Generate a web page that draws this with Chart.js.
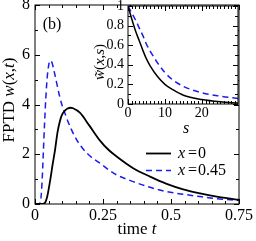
<!DOCTYPE html>
<html>
<head>
<meta charset="utf-8">
<script src="https://cdn.jsdelivr.net/npm/chart.js@4.4.1/dist/chart.umd.min.js"></script>
<style>
  html, body { margin: 0; padding: 0; background: #fff; }
  #wrap { position: relative; width: 256px; height: 241px; overflow: hidden; }
  canvas { position: absolute; }
  #main { left: 0; top: 0; }
  #inset { left: 90px; top: 0; }
</style>
</head>
<body>
<div id="wrap">
  <canvas id="main" width="256" height="241"></canvas>
  <canvas id="inset" width="166" height="140"></canvas>
</div>
<script>
// main panel: FPTD w(x,t)
const timeX0 = [0, 0.02, 0.03, 0.037, 0.045, 0.055, 0.065, 0.074, 0.083, 0.092, 0.1, 0.11, 0.12, 0.13, 0.14, 0.165, 0.2, 0.239, 0.27, 0.3, 0.361, 0.423, 0.484, 0.545, 0.607, 0.668, 0.729, 0.75];
const fptdX0 = [0, 0, 0.01, 0.05, 0.3, 0.9, 1.6, 2.2, 2.9, 3.35, 3.6, 3.75, 3.84, 3.87, 3.85, 3.67, 3.15, 2.55, 2.18, 1.91, 1.44, 1.1, 0.81, 0.59, 0.43, 0.3, 0.2, 0.17];
const timeX45 = [0, 0.012, 0.018, 0.022, 0.026, 0.03, 0.035, 0.04, 0.045, 0.05, 0.055, 0.06, 0.07, 0.08, 0.09, 0.1, 0.11, 0.12, 0.14, 0.165, 0.2, 0.239, 0.27, 0.3, 0.361, 0.423, 0.484, 0.545, 0.607, 0.668, 0.729, 0.75];
const fptdX45 = [0, 0, 0.03, 0.25, 0.9, 1.9, 3.2, 4.3, 5.1, 5.55, 5.76, 5.74, 5.35, 4.85, 4.35, 3.95, 3.65, 3.35, 2.85, 2.38, 1.95, 1.64, 1.38, 1.17, 0.9, 0.67, 0.5, 0.39, 0.3, 0.21, 0.16, 0.14];

// inset: Laplace transform w~(x,s)
const sVals = [0, 1, 2, 3, 4, 5, 6, 8, 10, 12, 15, 20, 25, 30];
const lapX0 = [1, 0.87, 0.75, 0.65, 0.55, 0.46, 0.39, 0.28, 0.2, 0.15, 0.09, 0.045, 0.022, 0.01];
const lapX45 = [1, 0.93, 0.86, 0.78, 0.7, 0.61, 0.54, 0.42, 0.32, 0.25, 0.18, 0.115, 0.08, 0.055];

const seriesLabels = ["x = 0", "x = 0.45"];

// tick marks and labels
const mainXMajor = [0, 0.25, 0.5, 0.75];
const mainXLabels = ["0", "0.25", "0.5", "0.75"];
const mainXMinor = [0.05, 0.1, 0.15, 0.2, 0.3, 0.35, 0.4, 0.45, 0.55, 0.6, 0.65, 0.7];
const mainYMajor = [0, 2, 4, 6, 8];
const mainYMinor = [1, 3, 5, 7];
const insetXMajor = [0, 10, 20];
const insetXMinor = [1, 2, 3, 4, 5, 6, 7, 8, 9, 11, 12, 13, 14, 15, 16, 17, 18, 19, 21, 22, 23, 24, 25, 26, 27, 28, 29];
const insetYMajor = [0, 0.2, 0.4, 0.6, 0.8, 1];
const insetYLabels = ["0", "0.2", "0.4", "0.6", "0.8", "1"];
const insetYMinor = [0.1, 0.3, 0.5, 0.7, 0.9];

const SERIF = "'Liberation Serif', 'DejaVu Serif', serif";
const BLUE = "#1c1cf0";

const pts = (xs, ys) => xs.map((v, i) => ({ x: v, y: ys[i] }));

function richText(ctx, parts, x, y, size) {
  let w = 0;
  parts.forEach(p => {
    ctx.font = (p[1] ? "italic " : "") + size + "px " + SERIF;
    w += ctx.measureText(p[0]).width;
  });
  let cx = x - w / 2;
  parts.forEach(p => {
    ctx.font = (p[1] ? "italic " : "") + size + "px " + SERIF;
    ctx.textAlign = "left";
    ctx.fillText(p[0], cx, y);
    cx += ctx.measureText(p[0]).width;
  });
}

const frame = {
  id: "frame",
  beforeDraw(chart, args, o) {
    if (!o.fill) return;
    const { ctx, chartArea: a } = chart;
    ctx.save();
    ctx.fillStyle = "#fff";
    ctx.fillRect(a.left, a.top, a.right - a.left, a.bottom - a.top);
    ctx.restore();
  },
  afterDraw(chart, args, o) {
    const { ctx, chartArea: a, scales: { x, y } } = chart;
    ctx.save();
    ctx.strokeStyle = "#000";
    ctx.lineWidth = 1;
    ctx.strokeRect(a.left, a.top, a.right - a.left, a.bottom - a.top);
    ctx.beginPath();
    const xt = (vals, len) => vals.forEach(v => {
      const p = Math.round(x.getPixelForValue(v)) + 0.5;
      ctx.moveTo(p, a.bottom); ctx.lineTo(p, a.bottom - len);
      ctx.moveTo(p, a.top); ctx.lineTo(p, a.top + len);
    });
    const yt = (vals, len) => vals.forEach(v => {
      const p = Math.round(y.getPixelForValue(v)) + 0.5;
      ctx.moveTo(a.left, p); ctx.lineTo(a.left + len, p);
      ctx.moveTo(a.right, p); ctx.lineTo(a.right - len, p);
    });
    xt(o.xMajor, 5); xt(o.xMinor, 3);
    yt(o.yMajor, 5); yt(o.yMinor, 3);
    ctx.stroke();
    ctx.restore();
  }
};

const mainText = {
  id: "mainText",
  afterDraw(chart) {
    const { ctx } = chart;
    ctx.save();
    ctx.fillStyle = "#000";
    ctx.textBaseline = "alphabetic";
    richText(ctx, [["(b)", false]], 52, 29, 16);
    richText(ctx, [["time ", false], ["t", true]], 137, 234, 17);
    ctx.translate(14, 100);
    ctx.rotate(-Math.PI / 2);
    richText(ctx, [["FPTD ", false], ["w", true], ["(", false], ["x", true], [",", false], ["t", true], [")", false]], 0, 0, 17);
    ctx.restore();

    // legend
    const ds = chart.data.datasets;
    const rows = [153, 170];
    ctx.save();
    ds.forEach((d, i) => {
      ctx.beginPath();
      ctx.strokeStyle = d.borderColor;
      ctx.lineWidth = d.borderWidth;
      ctx.setLineDash(d.borderDash || []);
      ctx.moveTo(146, rows[i] + 0.5);
      ctx.lineTo(171, rows[i] + 0.5);
      ctx.stroke();
      ctx.setLineDash([]);
      const lbl = d.label.split(" = ");
      ctx.fillStyle = "#000";
      ctx.textBaseline = "middle";
      ctx.textAlign = "left";
      ctx.font = "italic 16px " + SERIF;
      ctx.fillText(lbl[0], 178, rows[i] + 1);
      ctx.font = "16px " + SERIF;
      ctx.fillText("=", 188, rows[i] + 1);
      ctx.fillText(lbl[1], 198, rows[i] + 1);
    });
    ctx.restore();
  }
};

const insetText = {
  id: "insetText",
  afterDraw(chart) {
    const { ctx } = chart;
    ctx.save();
    ctx.fillStyle = "#000";
    ctx.textBaseline = "alphabetic";
    richText(ctx, [["s", true]], 96, 133, 16);
    ctx.translate(14, 62);
    ctx.rotate(-Math.PI / 2);
    richText(ctx, [["w\u0303", true], ["(", false], ["x", true], [",", false], ["s", true], [")", false]], 0, 0, 15);
    ctx.restore();
  }
};

const fixAxis = (w, h) => s => {
  if (w !== null) s.width = w;
  if (h !== null) s.height = h;
  s.paddingLeft = 0; s.paddingRight = 0; s.paddingTop = 0; s.paddingBottom = 0;
};

const lineDs = (label, data, color, width, dash) => ({
  label, data,
  borderColor: color, borderWidth: width, borderDash: dash,
  pointRadius: 0, fill: false, cubicInterpolationMode: "monotone"
});

new Chart(document.getElementById("main").getContext("2d"), {
  type: "line",
  data: {
    datasets: [
      lineDs(seriesLabels[0], pts(timeX0, fptdX0), "#000", 1.8, []),
      lineDs(seriesLabels[1], pts(timeX45, fptdX45), BLUE, 1.5, [6, 4])
    ]
  },
  options: {
    responsive: false,
    animation: false,
    devicePixelRatio: 1,
    layout: { padding: { left: 0, right: 17, top: 5, bottom: 0 } },
    plugins: {
      legend: { display: false },
      tooltip: { enabled: false },
      frame: { xMajor: mainXMajor, xMinor: mainXMinor, yMajor: mainYMajor, yMinor: mainYMinor }
    },
    scales: {
      x: {
        type: "linear", min: 0, max: 0.75,
        afterBuildTicks: s => { s.ticks = mainXMajor.map(v => ({ value: v })); },
        afterFit: fixAxis(null, 37),
        grid: { display: false, drawTicks: false },
        border: { display: false },
        ticks: {
          color: "#000", padding: 2, maxRotation: 0, autoSkip: false,
          font: { family: SERIF, size: 16 },
          callback: (v, i) => mainXLabels[i]
        }
      },
      y: {
        type: "linear", min: 0, max: 8,
        afterBuildTicks: s => { s.ticks = mainYMajor.map(v => ({ value: v })); },
        afterFit: fixAxis(35, null),
        grid: { display: false, drawTicks: false },
        border: { display: false },
        ticks: { color: "#000", padding: 5, autoSkip: false, font: { family: SERIF, size: 16 } }
      }
    }
  },
  plugins: [frame, mainText]
});

new Chart(document.getElementById("inset").getContext("2d"), {
  type: "line",
  data: {
    datasets: [
      lineDs(seriesLabels[0], pts(sVals, lapX0), "#000", 1.5, []),
      lineDs(seriesLabels[1], pts(sVals, lapX45), BLUE, 1.5, [6, 4])
    ]
  },
  options: {
    responsive: false,
    animation: false,
    devicePixelRatio: 1,
    layout: { padding: { left: 0, right: 18, top: 6, bottom: 0 } },
    plugins: {
      legend: { display: false },
      tooltip: { enabled: false },
      frame: { fill: true, xMajor: insetXMajor, xMinor: insetXMinor, yMajor: insetYMajor, yMinor: insetYMinor }
    },
    scales: {
      x: {
        type: "linear", min: 0, max: 29.8,
        afterBuildTicks: s => { s.ticks = insetXMajor.map(v => ({ value: v })); },
        afterFit: fixAxis(null, 36),
        grid: { display: false, drawTicks: false },
        border: { display: false },
        ticks: { color: "#000", padding: 1, maxRotation: 0, autoSkip: false, font: { family: SERIF, size: 14 } }
      },
      y: {
        type: "linear", min: 0, max: 1,
        afterBuildTicks: s => { s.ticks = insetYMajor.map(v => ({ value: v })); },
        afterFit: fixAxis(38, null),
        grid: { display: false, drawTicks: false },
        border: { display: false },
        ticks: {
          color: "#000", padding: 4, autoSkip: false,
          font: { family: SERIF, size: 14 },
          callback: (v, i) => insetYLabels[i]
        }
      }
    }
  },
  plugins: [frame, insetText]
});
</script>
</body>
</html>
